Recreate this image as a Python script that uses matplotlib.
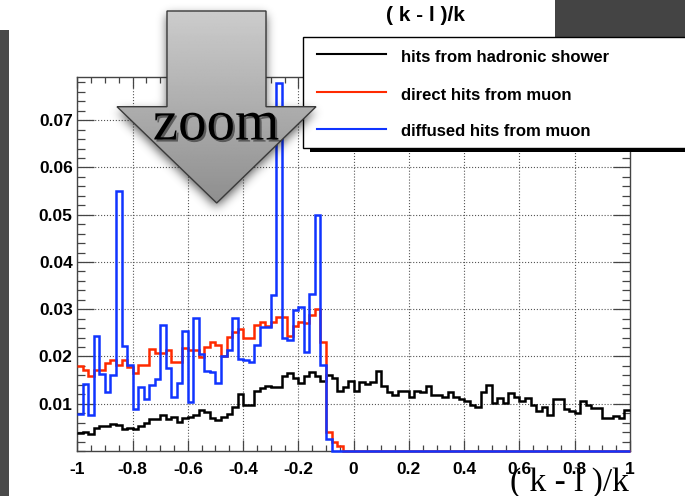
import numpy as np
import matplotlib
matplotlib.use("Agg")
import matplotlib.pyplot as plt
import matplotlib.patheffects as pe
from matplotlib.patches import Polygon, Rectangle
from matplotlib.lines import Line2D
from matplotlib.path import Path
from matplotlib.ticker import MultipleLocator

# 100 bins of (k - l)/k between -1 and 1
edges = np.linspace(-1, 1, 101)

shower = [0.0039, 0.0040, 0.0035, 0.0049, 0.0053, 0.0053, 0.0058, 0.0055, 0.0046, 0.0049,
          0.0046, 0.0053, 0.0060, 0.0067, 0.0067, 0.0077, 0.0067, 0.0072, 0.0062, 0.0069,
          0.0072, 0.0077, 0.0086, 0.0083, 0.0070, 0.0065, 0.0072, 0.0079, 0.0093, 0.0121,
          0.0098, 0.0098, 0.0127, 0.0133, 0.0137, 0.0136, 0.0136, 0.0159, 0.0166, 0.0154,
          0.0144, 0.0159, 0.0168, 0.0159, 0.0148, 0.0160, 0.0155, 0.0128, 0.0135, 0.0149,
          0.0127, 0.0147, 0.0142, 0.0147, 0.0170, 0.0137, 0.0125, 0.0119, 0.0128, 0.0128,
          0.0114, 0.0127, 0.0124, 0.0138, 0.0119, 0.0119, 0.0114, 0.0125, 0.0114, 0.0109,
          0.0106, 0.0098, 0.0093, 0.0124, 0.0140, 0.0102, 0.0113, 0.0102, 0.0123, 0.0114,
          0.0106, 0.0112, 0.0097, 0.0085, 0.0093, 0.0077, 0.0109, 0.0111, 0.0088, 0.0084,
          0.0081, 0.0106, 0.0097, 0.0092, 0.0090, 0.0070, 0.0070, 0.0074, 0.0070, 0.0086]

direct = [0.0180, 0.0172, 0.0158, 0.0172, 0.0172, 0.0187, 0.0193, 0.0181, 0.0193, 0.0177,
          0.0165, 0.0181, 0.0181, 0.0216, 0.0207, 0.0207, 0.0214, 0.0189, 0.0189, 0.0219,
          0.0214, 0.0214, 0.0199, 0.0221, 0.0230, 0.0224, 0.0202, 0.0242, 0.0251, 0.0258,
          0.0239, 0.0239, 0.0267, 0.0274, 0.0265, 0.0274, 0.0283, 0.0284, 0.0244, 0.0265,
          0.0272, 0.0270, 0.0288, 0.0300, 0.0230, 0.0041, 0.0020, 0.0010] + [0.0] * 52

diffused = [0.0079, 0.0142, 0.0077, 0.0244, 0.0163, 0.0125, 0.0161, 0.0551, 0.0223, 0.0181,
            0.0088, 0.0135, 0.0111, 0.0139, 0.0153, 0.0267, 0.0176, 0.0114, 0.0144, 0.0253,
            0.0104, 0.0281, 0.0205, 0.0170, 0.0167, 0.0144, 0.0202, 0.0213, 0.0281, 0.0195,
            0.0192, 0.0188, 0.0225, 0.0263, 0.0263, 0.0330, 0.0778, 0.0239, 0.0234, 0.0299,
            0.0304, 0.0209, 0.0333, 0.0499, 0.0181, 0.0025] + [0.0] * 54

labels = ["hits from hadronic shower", "direct hits from muon", "diffused hits from muon"]
colors = ["black", "#ff2a00", "#1034ff"]

xticks = [-1, -0.8, -0.6, -0.4, -0.2, 0, 0.2, 0.4, 0.6, 0.8, 1]
xtick_labels = ["-1", "-0.8", "-0.6", "-0.4", "-0.2", "0", "0.2", "0.4", "0.6", "0.8", "1"]
yticks = [0.01, 0.02, 0.03, 0.04, 0.05, 0.06, 0.07]
ytick_labels = ["0.01", "0.02", "0.03", "0.04", "0.05", "0.06", "0.07"]

W, H = 685, 496
fig = plt.figure(figsize=(W / 100, H / 100), dpi=100)

# frame in pixel units
left, right, top, bottom = 77.3, 630, 76.7, 451
ax = fig.add_axes([left / W, 1 - bottom / H, (right - left) / W, (bottom - top) / H])

for vals, c in zip([shower, direct, diffused], colors):
    ax.stairs(vals, edges, color=c, lw=1.8, baseline=None, clip_on=False, zorder=3)

ax.set_xlim(-1, 1)
ax.set_ylim(0, 0.0792)
ax.set_xticks(xticks)
ax.set_xticklabels(xtick_labels)
ax.set_yticks(yticks)
ax.set_yticklabels(ytick_labels)
ax.xaxis.set_minor_locator(MultipleLocator(0.05))
ax.yaxis.set_minor_locator(MultipleLocator(0.002))
ax.tick_params(which="both", direction="in", top=True, right=True, color="#444", width=0.9)
ax.tick_params(axis="x", which="major", length=8, pad=8)
ax.tick_params(axis="x", which="minor", length=4)
ax.tick_params(axis="y", which="major", length=12.5, pad=3.3)
ax.tick_params(axis="y", which="minor", length=6)
for lab in ax.get_xticklabels() + ax.get_yticklabels():
    lab.set_fontfamily("Liberation Sans")
    lab.set_fontweight("bold")
    lab.set_fontsize(12.5)
ax.grid(True, which="major", ls=":", color="#555", lw=0.8)
for sp in ax.spines.values():
    sp.set_color("#444")
    sp.set_linewidth(1)

# overlay in pixel coordinates for the decorations
ov = fig.add_axes([0, 0, 1, 1], zorder=10)
ov.set_xlim(0, W)
ov.set_ylim(H, 0)
ov.axis("off")

# dark slide edges
ov.add_patch(Rectangle((0, 30), 9, H - 30, color="#4a4a4a", lw=0))
ov.add_patch(Rectangle((555, 0), W - 555, 37, color="#444444", lw=0))

fig.text(425 / W, 1 - 21 / H, "( k - l )/k", ha="center", va="baseline",
         family="Liberation Sans", weight="bold", fontsize=15)
fig.text(569 / W, 1 - 491 / H, "( k - l )/k", ha="center", va="baseline",
         family="Liberation Serif", fontsize=24, zorder=20)

# legend box with drop shadow
ov.add_patch(Rectangle((310, 41), 400, 110.5, color="black", lw=0, zorder=1))
ov.add_patch(Rectangle((303, 37.3), 400, 110.2, facecolor="white", edgecolor="black", lw=1, zorder=2))
rows = [54.3, 92.3, 129.0]
for lab, c, yr in zip(labels, colors, rows):
    ov.add_line(Line2D([317, 386], [yr, yr], color=c, lw=1.5, zorder=3))
    ov.text(401, yr + 7.4, lab, va="baseline", ha="left", family="Liberation Sans",
            weight="bold", fontsize=12, zorder=3)

# zoom arrow
arrow = [(167, 11), (266, 11), (266, 106.7), (316, 106.7), (216.7, 203),
         (117, 106.7), (167, 106.7)]
yy, xx = np.mgrid[0:H, 0:W]
mask = Path(np.array(arrow) + [0, 4]).contains_points(
    np.column_stack([xx.ravel() + 0.5, yy.ravel() + 0.5])).reshape(H, W).astype(float)
k = np.exp(-0.5 * (np.arange(-15, 16) / 5.0) ** 2)
k /= k.sum()
blur = np.apply_along_axis(lambda r: np.convolve(r, k, mode="same"), 1, mask)
blur = np.apply_along_axis(lambda c: np.convolve(c, k, mode="same"), 0, blur)
shadow = np.zeros((H, W, 4))
shadow[..., 3] = 0.65 * blur
ov.imshow(shadow, extent=(0, W, H, 0), aspect="auto", interpolation="bilinear", zorder=4)

poly = Polygon(arrow, closed=True, facecolor="none", edgecolor="#3a3a3a", lw=1, zorder=6)
ov.add_patch(poly)
grad = np.linspace(0.80, 0.56, 200)[:, None] * np.ones((1, 2))
im = ov.imshow(grad, extent=(117, 316, 203, 11), cmap="gray", vmin=0, vmax=1,
               aspect="auto", interpolation="bilinear", zorder=5)
im.set_clip_path(poly)
ov.text(216, 139.5, "zoom", ha="center", va="baseline", family="Liberation Serif",
        fontsize=41, color="black", zorder=7,
        path_effects=[pe.SimplePatchShadow(offset=(1.5, -1.5), alpha=0.45), pe.Normal()])

ov.set_xlim(0, W)
ov.set_ylim(H, 0)

fig.savefig("out.png", dpi=100)
